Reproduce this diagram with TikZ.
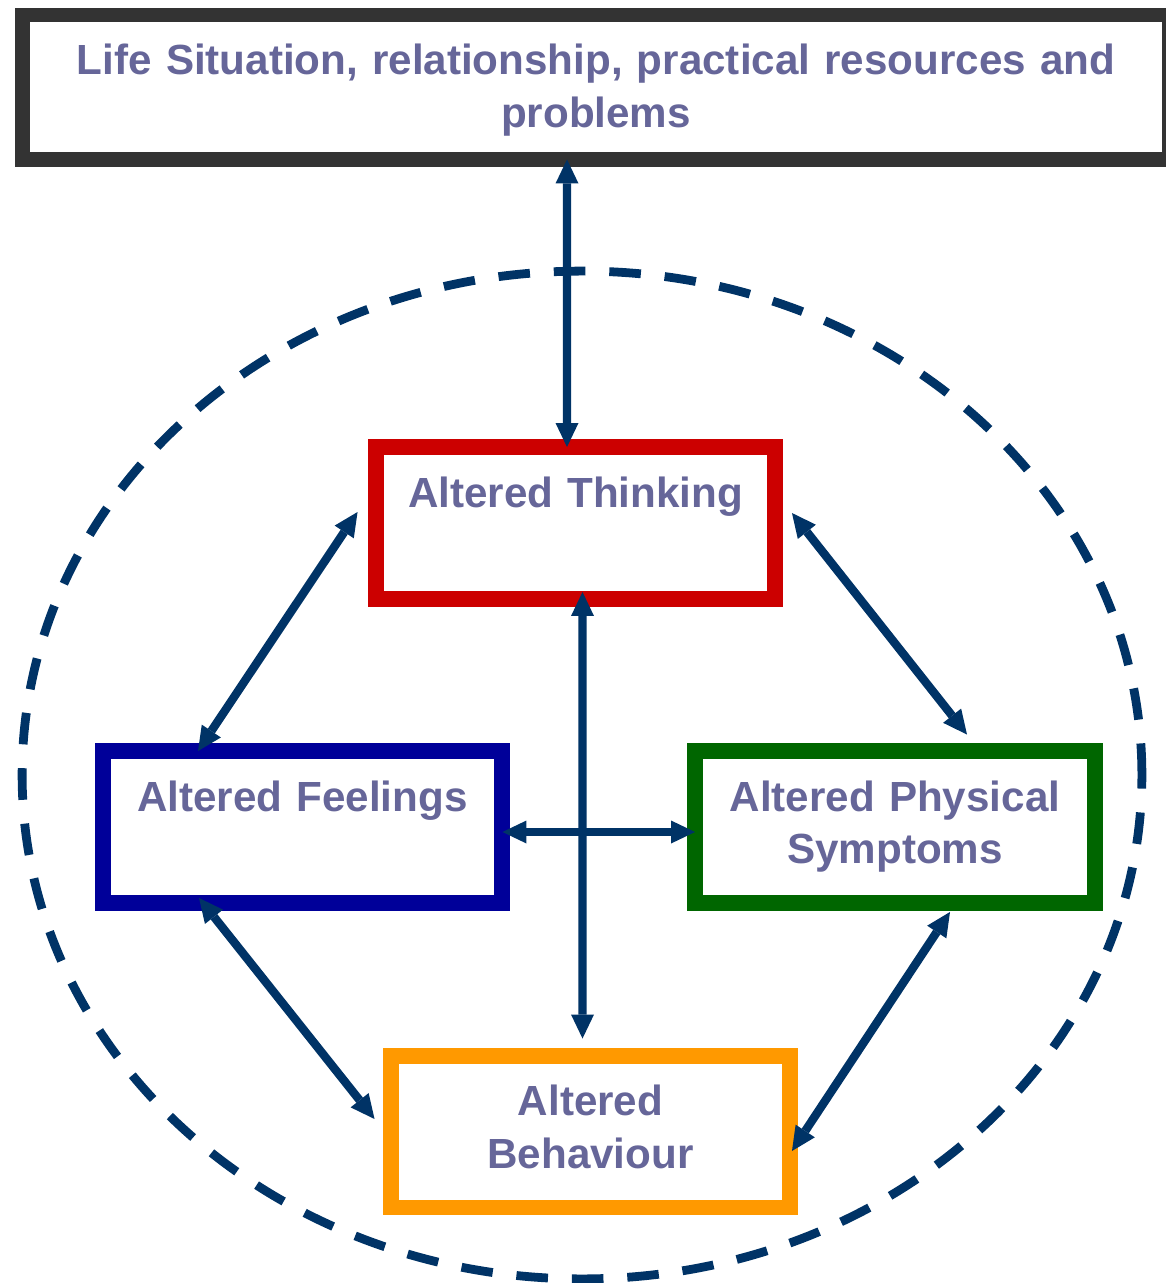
\documentclass[tikz,border=0pt]{standalone}
\usepackage{fontspec}
\setmainfont{Liberation Sans}
\usepackage{xcolor}
\usetikzlibrary{arrows.meta}

\definecolor{labeltxt}{HTML}{666699}
\definecolor{navy}{HTML}{003366}
\definecolor{darkframe}{HTML}{333333}
\definecolor{thinkred}{HTML}{CC0000}
\definecolor{feelblue}{HTML}{000099}
\definecolor{physgreen}{HTML}{006600}
\definecolor{behavorange}{HTML}{FF9900}

\begin{document}
\begin{tikzpicture}[
  x=0.02cm, y=-0.02cm,
  factor/.style={draw, line width=9.1pt, fill=white, minimum width=8cm,
    minimum height=3.04cm, inner sep=0pt, outer sep=0pt, text width=7.6cm,
    align=center, text height=1.2cm, text depth=1.84cm, text=labeltxt,
    font=\bfseries\fontsize{24}{30}\selectfont},
  link/.style={<->, >={Triangle[length=0.48cm,width=0.46cm,line width=0pt]},
    line width=4.8pt, draw=navy}
]
\useasboundingbox (0,0) rectangle (1165,1283);

% boundary of the person
\draw[navy, line width=5pt, dash pattern=on 18pt off 13.6pt]
  (582,775) ellipse [x radius=11.2cm, y radius=10.08cm];

\node[factor, draw=darkframe, line width=8.5pt, minimum width=22.96cm,
  minimum height=2.89cm, text width=22cm, text depth=1.69cm] (life) at (596,87.25)
  {Life Situation, relationship, practical resources and\\problems};
\node[factor, draw=thinkred] (think) at (575.5,523) {Altered Thinking};
\node[factor, draw=feelblue] (feel) at (302.5,827) {Altered Feelings};
\node[factor, draw=physgreen] (phys) at (895,827) {Altered Physical\\Symptoms};
\node[factor, draw=behavorange] (behav) at (590.5,1131.5) {Altered\\Behaviour};

\draw[link] ([xshift=-0.58cm]life.south) -- ([xshift=-0.17cm]think.north);
\draw[link] ([xshift=0.14cm,yshift=0.14cm]think.south) -- ([xshift=-0.16cm,yshift=0.34cm]behav.north);
\draw[link] ([yshift=-0.1cm]feel.east) -- ([yshift=-0.1cm]phys.west);
\draw[link] ([xshift=-0.36cm,yshift=0.22cm]think.west) -- ([xshift=-2.09cm]feel.north);
\draw[link] ([xshift=0.33cm,yshift=0.2cm]think.east) -- ([xshift=1.44cm,yshift=0.33cm]phys.north);
\draw[link] ([xshift=-2.07cm,yshift=0.1cm]feel.south) -- ([xshift=-0.32cm,yshift=0.25cm]behav.west);
\draw[link] ([xshift=1.1cm,yshift=-0.18cm]phys.south) -- ([xshift=0.03cm,yshift=-0.39cm]behav.east);
\end{tikzpicture}
\end{document}
